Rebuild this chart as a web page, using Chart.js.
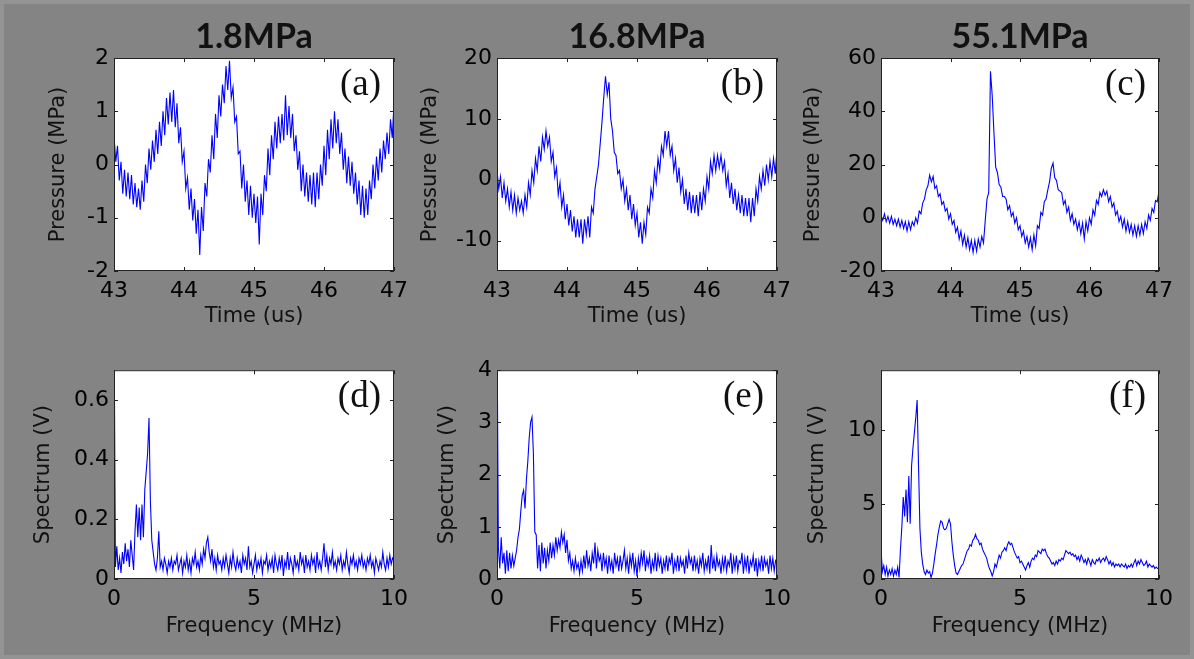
<!DOCTYPE html>
<html>
<head>
<meta charset="utf-8">
<script src="https://cdn.jsdelivr.net/npm/chart.js@4.4.1/dist/chart.umd.min.js"></script>
<style>
  html, body { margin: 0; padding: 0; }
  body { width: 1194px; height: 659px; background: rgb(132,132,132); position: relative; overflow: hidden; }
  .frame { position: absolute; left: 0; top: 0; width: 1194px; height: 659px; box-sizing: border-box; border: 4px solid rgb(148,148,148); }
  .panel { position: absolute; }
</style>
</head>
<body>
<div class="frame"></div>
<div class="panel" id="pa"><canvas id="ca"></canvas></div>
<div class="panel" id="pb"><canvas id="cb"></canvas></div>
<div class="panel" id="pc"><canvas id="cc"></canvas></div>
<div class="panel" id="pd"><canvas id="cd"></canvas></div>
<div class="panel" id="pe"><canvas id="ce"></canvas></div>
<div class="panel" id="pf"><canvas id="cf"></canvas></div>
<script>
// sampling grids (time in us, frequency in MHz)
const grid = (start, step, n) => Array.from({length: n}, (_, i) => +(start + i * step).toFixed(3))
const timeUs = grid(43, 0.025, 161)
const freqMHz = grid(0, 0.05, 201)

// Data
const pressureA = [
  0.55, 0.05, 0.35, -0.3, 0.05, -0.55, -0.1, -0.6,
  -0.15, -0.65, -0.2, -0.75, -0.35, -0.8, -0.45, -0.85,
  -0.3, -0.7, 0.0, -0.35, 0.3, -0.1, 0.45, 0.05,
  0.65, 0.2, 0.8, 0.35, 1.0, 0.55, 1.25, 0.75,
  1.35, 0.8, 1.4, 0.7, 1.15, 0.4, 0.7, 0.05,
  0.25, -0.45, -0.25, -0.85, -0.45, -1.05, -0.65, -1.3,
  -0.85, -1.7, -0.8, -1.25, -0.35, -0.6, 0.1, -0.15,
  0.55, 0.1, 0.95, 0.5, 1.3, 0.9, 1.5, 1.15,
  1.85, 1.4, 1.95, 1.25, 1.45, 0.8, 0.9, 0.2,
  0.25, -0.45, 0.0, -0.7, -0.3, -0.95, -0.4, -1.0,
  -0.55, -1.1, -0.6, -1.5, -0.55, -0.95, -0.2, -0.5,
  0.3, -0.2, 0.55, 0.1, 0.8, 0.3, 0.9, 0.4,
  0.95, 0.45, 1.3, 0.55, 1.1, 0.5, 0.95, 0.25,
  0.55, -0.1, 0.25, -0.5, 0.0, -0.6, -0.15, -0.7,
  -0.2, -0.75, -0.15, -0.8, -0.15, -0.65, 0.0, -0.4,
  0.35, -0.2, 0.65, 0.1, 0.85, 0.3, 1.0, 0.4,
  0.85, 0.2, 0.6, -0.1, 0.3, -0.35, 0.15, -0.4,
  0.05, -0.55, -0.15, -0.75, -0.3, -0.95, -0.4, -1.0,
  -0.45, -0.95, -0.3, -0.65, 0.0, -0.45, 0.15, -0.3,
  0.3, -0.15, 0.45, 0.1, 0.6, 0.2, 0.85, 0.5,
  1.15
]
const pressureB = [
  1.5, -1.5, 0.5, -3, -0.5, -3.5, -1.5, -4.5,
  -2, -5, -2.5, -5.5, -3, -5, -3.5, -5.5,
  -2.5, -4.5, -0.5, -2.5, 1.5, -0.5, 3.5, 1.5,
  5.5, 3, 7, 5, 8, 5.5, 7, 3,
  4.5, 0.5, 2, -2.5, -0.5, -4.5, -2.5, -6.5,
  -4, -7.5, -5, -8.5, -6, -9.5, -6.5, -9.5,
  -6.5, -10.5, -6.5, -9, -6, -9.5, -4.5, -5.5,
  -1.5, 0.5, 2.5, 6, 9.5, 13.5, 17, 14,
  16, 10, 8, 4.5, 4, 1, 1.5, -1.5,
  0, -3.5, -1.5, -5, -2.5, -6.5, -4, -7.5,
  -5.5, -9.5, -7, -10.5, -7, -9, -4.5, -5.5,
  -1.5, -3, 1.5, -0.5, 3.5, 1.5, 5.5, 4,
  8, 5.5, 8, 4, 5.5, 1.5, 3.5, -0.5,
  2, -2, 0, -4, -1.5, -5, -2, -5.5,
  -2.5, -5.5, -2.5, -6, -2, -5, -1.5, -3.5,
  0.5, -1.5, 3, 1, 4, 1.5, 4, 2,
  4, 1.5, 3, -1, 1, -3, -0.5, -4,
  -1.5, -5, -2.5, -5.5, -2.5, -6, -3, -6,
  -3, -7, -3, -6, -1.5, -3.5, 0.5, -1.5,
  1.5, -1, 2.5, 0, 3, 0.5, 3.5, 1,
  5
]
const pressureC = [
  1, -1, 1.5, -1.5, 0.5, -2, 0.5, -2.5,
  -0.5, -3, -0.5, -3.5, -1, -4, -1.5, -5,
  -1.5, -4.5, -1.5, -3, 0, -2, 2.5, 1.5,
  5.5, 7, 10.5, 12, 16, 13.5, 15.5, 11,
  12, 8, 9, 5, 6, 2.5, 3.5, -0.5,
  1.5, -2.5, -1, -5.5, -3.5, -8, -5, -10,
  -6.5, -11, -7.5, -12, -8.5, -13, -8.5, -12.5,
  -8, -11, -7, -9.5, -1, 7, 9.5, 55,
  46, 32, 19, 17, 12.5, 11.5, 8, 8,
  7, 3, 4.5, 0.5, 2, -2, 0, -4.5,
  -3, -7, -5, -9.5, -7, -11, -7.5, -12,
  -6.5, -10.5, -3, -4, 2, 1, 6, 7,
  10.5, 13.5, 18.5, 20.5, 15, 14, 10.5, 10,
  9.5, 5, 6.5, 2, 4, -1, 1.5, -2.5,
  -0.5, -4.5, -1.5, -6, -2, -8, -1.5, -5,
  0, -2.5, 3, 1, 6.5, 5, 9.5, 8,
  10.5, 8.5, 10, 6, 8, 4, 5.5, 1,
  2.5, -1.5, 0.5, -3.5, -0.5, -5, -1.5, -5.5,
  -2.5, -6.5, -3, -7, -3, -6.5, -2.5, -6,
  -1.5, -4, 1, -1, 3.5, 2, 6.5, 6,
  10
]
const spectrumD = [
  0.9,
  0.04, 0.11, 0.03, 0.07, 0.02, 0.09, 0.05, 0.12, 0.06, 0.1,
  0.04, 0.13, 0.08, 0.03, 0.16, 0.25, 0.14, 0.24, 0.13, 0.25,
  0.14, 0.3, 0.36, 0.42, 0.54, 0.26, 0.13, 0.09, 0.05, 0.03,
  0.07, 0.16, 0.04, 0.06, 0.03, 0.07, 0.05, 0.02, 0.06, 0.04,
  0.07, 0.03, 0.06, 0.05, 0.08, 0.03, 0.05, 0.07, 0.02, 0.06,
  0.04, 0.08, 0.03, 0.06, 0.02, 0.07, 0.05, 0.09, 0.04, 0.06,
  0.03, 0.08, 0.05, 0.1, 0.07, 0.12, 0.14, 0.09, 0.06, 0.1,
  0.04, 0.07, 0.03, 0.08, 0.05, 0.06, 0.03, 0.07, 0.04, 0.08,
  0.05, 0.02, 0.07, 0.04, 0.09, 0.05, 0.03, 0.07, 0.04, 0.06,
  0.02, 0.08, 0.05, 0.07, 0.03, 0.11, 0.04, 0.06, 0.02, 0.05,
  0.08, 0.03, 0.06, 0.04, 0.07, 0.02, 0.06, 0.05, 0.08, 0.03,
  0.06, 0.04, 0.07, 0.02, 0.08, 0.05, 0.03, 0.07, 0.04, 0.08,
  0.01, 0.06, 0.04, 0.09, 0.03, 0.07, 0.05, 0.02, 0.08, 0.04,
  0.06, 0.03, 0.09, 0.05, 0.07, 0.02, 0.08, 0.04, 0.06, 0.03,
  0.08, 0.05, 0.07, 0.02, 0.09, 0.04, 0.06, 0.03, 0.07, 0.12,
  0.04, 0.08, 0.03, 0.07, 0.05, 0.09, 0.04, 0.06, 0.03, 0.07,
  0.05, 0.08, 0.03, 0.06, 0.04, 0.09, 0.05, 0.02, 0.07, 0.05,
  0.08, 0.04, 0.06, 0.03, 0.07, 0.05, 0.08, 0.04, 0.06, 0.03,
  0.07, 0.05, 0.08, 0.04, 0.06, 0.02, 0.07, 0.05, 0.03, 0.06,
  0.04, 0.09, 0.05, 0.03, 0.07, 0.04, 0.08, 0.05, 0.07, 0.06
]
const spectrumE = [
  5,
  0.6, 0.2, 0.8, 0.3, 0.5, 0.1, 0.55, 0.15, 0.5, 0.2,
  0.45, 0.25, 0.4, 0.55, 0.8, 0.95, 1.3, 1.6, 1.7, 1.35,
  1.9, 2.25, 2.7, 3.0, 3.1, 2.4, 0.9, 0.85, 0.2, 0.65,
  0.15, 0.7, 0.3, 0.6, 0.2, 0.55, 0.35, 0.7, 0.4, 0.65,
  0.45, 0.8, 0.55, 0.75, 0.6, 0.9, 0.7, 0.85, 0.5, 0.75,
  0.35, 0.5, 0.2, 0.35, 0.15, 0.4, 0.2, 0.3, 0.1, 0.35,
  0.15, 0.45, 0.2, 0.55, 0.25, 0.4, 0.15, 0.5, 0.3, 0.7,
  0.2, 0.55, 0.35, 0.45, 0.15, 0.5, 0.25, 0.4, 0.1, 0.45,
  0.2, 0.35, 0.1, 0.5, 0.25, 0.4, 0.15, 0.45, 0.2, 0.35,
  0.55, 0.2, 0.4, 0.1, 0.45, 0.25, 0.5, 0.15, 0.35, 0.05,
  0.4, 0.2, 0.5, 0.3, 0.55, 0.15, 0.4, 0.25, 0.45, 0.1,
  0.35, 0.2, 0.5, 0.15, 0.45, 0.25, 0.4, 0.1, 0.35, 0.2,
  0.45, 0.15, 0.4, 0.3, 0.5, 0.1, 0.35, 0.2, 0.45, 0.15,
  0.4, 0.25, 0.35, 0.1, 0.45, 0.2, 0.5, 0.3, 0.4, 0.15,
  0.45, 0.2, 0.35, 0.1, 0.4, 0.25, 0.5, 0.15, 0.35, 0.2,
  0.45, 0.1, 0.65, 0.2, 0.4, 0.15, 0.45, 0.25, 0.35, 0.1,
  0.4, 0.2, 0.45, 0.15, 0.35, 0.25, 0.5, 0.1, 0.4, 0.2,
  0.45, 0.15, 0.35, 0.3, 0.5, 0.1, 0.4, 0.2, 0.45, 0.1,
  0.35, 0.25, 0.45, 0.15, 0.4, 0.05, 0.35, 0.2, 0.45, 0.15,
  0.4, 0.25, 0.35, 0.1, 0.45, 0.2, 0.4, 0.15, 0.35, 0.4
]
const spectrumF = [
  2.0,
  0.5, 0.9, 0.3, 0.8, 0.2, 0.6, 0.3, 0.7, 0.2, 0.6,
  0.3, 0.8, 0.1, 2.0, 3.5, 5.5, 4.2, 6.0, 3.8, 6.9,
  3.7, 7.6, 8.8, 9.8, 10.8, 12.0, 7.6, 3.4, 1.8, 1.0,
  0.5, 0.3, 0.6, 0.4, 0.5, 0.1, 0.4, 1.0, 1.7, 2.3,
  3.0, 3.5, 3.9, 3.8, 3.4, 3.3, 3.4, 3.7, 4.0, 3.7,
  2.5, 1.6, 0.9, 0.4, 0.3, 0.5, 0.7, 0.9, 1.0, 1.3,
  1.6, 1.9, 2.0, 2.3, 2.2, 2.6, 2.7, 3.0, 2.7, 2.6,
  2.3, 2.4, 2.0, 1.8, 1.6, 1.4, 1.0, 0.7, 0.5, 0.2,
  0.5, 1.0, 0.8, 1.2, 1.6, 1.4, 1.8, 1.9, 2.1, 1.9,
  2.3, 2.5, 2.3, 2.4, 2.1, 1.8, 1.6, 1.4, 1.5, 1.1,
  1.2, 1.0, 0.8, 0.6, 0.9, 1.1, 0.8, 1.2, 1.4, 1.3,
  1.6, 1.5, 1.9, 1.8, 1.7, 2.0, 1.9, 2.0, 1.7, 1.5,
  1.4, 1.2, 1.0, 1.1, 0.9, 1.2, 1.0, 1.3, 1.2, 1.4,
  1.3, 1.6, 1.9, 1.8, 1.7, 1.8, 1.6, 1.7, 1.5, 1.6,
  1.3, 1.5, 1.2, 1.6, 1.4, 1.1, 1.3, 1.0, 1.4, 1.2,
  0.9, 1.3, 1.1, 1.0, 1.3, 1.2, 1.4, 1.1, 1.3, 1.4,
  1.2, 1.5, 1.3, 1.0, 1.2, 0.9, 1.1, 0.8, 1.0, 0.9,
  1.0, 0.8, 1.0, 0.9, 0.8, 1.0, 0.7, 0.9, 0.8, 1.0,
  0.8, 1.1, 1.3, 0.9, 1.2, 1.0, 1.3, 1.1, 0.9, 1.0,
  1.2, 0.8, 1.0, 0.9, 0.8, 0.9, 0.7, 0.8, 0.7, 0.7
]

// tick labels
const timeTicks = [43, 44, 45, 46, 47]
const freqTicks = [0, 5, 10]
const pressureTicksA = [-2, -1, 0, 1, 2]
const pressureTicksB = [-10, 0, 10, 20]
const pressureTicksC = [-20, 0, 20, 40, 60]
const spectrumTicksD = [0, 0.2, 0.4, 0.6]
const spectrumTicksE = [0, 1, 2, 3, 4]
const spectrumTicksF = [0, 5, 10]

const titles = ['1.8MPa', '16.8MPa', '55.1MPa']
const tags = ['(a)', '(b)', '(c)', '(d)', '(e)', '(f)']

Chart.defaults.color = '#000'
Chart.defaults.font.family = '"DejaVu Sans", sans-serif'

const Y_AXIS_W = 90
const X_AXIS_H = 75
const RIGHT_PAD = 22

// white plot area, box, inner ticks, panel tag and title
const framePlugin = {
  id: 'frame',
  beforeDraw(chart) {
    const {ctx, chartArea: a} = chart
    ctx.save()
    ctx.fillStyle = '#fff'
    ctx.fillRect(a.left, a.top, a.width, a.height)
    ctx.restore()
  },
  afterDraw(chart, args, opts) {
    const {ctx, chartArea: a, scales: {x, y}} = chart
    ctx.save()
    ctx.strokeStyle = '#222'
    ctx.lineWidth = 1
    ctx.strokeRect(a.left + 0.5, a.top + 0.5, a.width - 1, a.height - 1)
    ctx.beginPath()
    x.ticks.forEach(t => {
      const px = Math.round(x.getPixelForValue(t.value)) + 0.5
      ctx.moveTo(px, a.bottom); ctx.lineTo(px, a.bottom - 4)
      ctx.moveTo(px, a.top); ctx.lineTo(px, a.top + 4)
    })
    y.ticks.forEach(t => {
      const py = Math.round(y.getPixelForValue(t.value)) + 0.5
      ctx.moveTo(a.left, py); ctx.lineTo(a.left + 4, py)
      ctx.moveTo(a.right, py); ctx.lineTo(a.right - 4, py)
    })
    ctx.stroke()
    ctx.fillStyle = '#111'
    ctx.font = '37px "Liberation Serif", serif'
    ctx.textAlign = 'right'
    ctx.textBaseline = 'middle'
    ctx.fillText(opts.tag, a.right - 13, a.top + 27)
    if (opts.title) {
      ctx.font = 'bold 34px Lato, sans-serif'
      ctx.textAlign = 'center'
      ctx.fillText(opts.title, (a.left + a.right) / 2, a.top - 21)
    }
    ctx.restore()
  }
}

const panels = [
  {id: 'a', x: timeUs, y: pressureA, xTicks: timeTicks, yTicks: pressureTicksA, xr: [43, 47], yr: [-2, 2],
   xTitle: 'Time (us)', yTitle: 'Pressure (MPa)', plot: [114, 58, 280, 213], yDist: 55, title: titles[0], tag: tags[0]},
  {id: 'b', x: timeUs, y: pressureB, xTicks: timeTicks, yTicks: pressureTicksB, xr: [43, 47], yr: [-15, 20],
   xTitle: 'Time (us)', yTitle: 'Pressure (MPa)', plot: [497, 58, 280, 213], yDist: 66, title: titles[1], tag: tags[1]},
  {id: 'c', x: timeUs, y: pressureC, xTicks: timeTicks, yTicks: pressureTicksC, xr: [43, 47], yr: [-20, 60],
   xTitle: 'Time (us)', yTitle: 'Pressure (MPa)', plot: [881, 58, 278, 213], yDist: 67, title: titles[2], tag: tags[2]},
  {id: 'd', x: freqMHz, y: spectrumD, xTicks: freqTicks, yTicks: spectrumTicksD, xr: [0, 10], yr: [0, 0.7],
   xTitle: 'Frequency (MHz)', yTitle: 'Spectrum (V)', plot: [114, 366, 280, 213], yDist: 70, tag: tags[3]},
  {id: 'e', x: freqMHz, y: spectrumE, xTicks: freqTicks, yTicks: spectrumTicksE, xr: [0, 10], yr: [0, 4],
   xTitle: 'Frequency (MHz)', yTitle: 'Spectrum (V)', plot: [497, 366, 280, 213], yDist: 49, tag: tags[4]},
  {id: 'f', x: freqMHz, y: spectrumF, xTicks: freqTicks, yTicks: spectrumTicksF, xr: [0, 10], yr: [0, 14],
   xTitle: 'Frequency (MHz)', yTitle: 'Spectrum (V)', plot: [881, 366, 278, 213], yDist: 63, tag: tags[5]},
]

panels.forEach(p => {
  const [pl, pt, pw, ph] = p.plot
  const padTop = p.title ? 50 : 14
  const box = document.getElementById('p' + p.id)
  const canvas = document.getElementById('c' + p.id)
  const w = pw + Y_AXIS_W + RIGHT_PAD
  const h = padTop + ph + X_AXIS_H
  box.style.left = (pl - Y_AXIS_W) + 'px'
  box.style.top = (pt - padTop) + 'px'
  canvas.width = w
  canvas.height = h
  const xTitleDist = p.title ? 46 : 48

  new Chart(canvas, {
    type: 'line',
    data: {
      labels: p.x,
      datasets: [{
        data: p.y,
        borderColor: '#0000ff',
        borderWidth: 1.1,
        pointRadius: 0,
        tension: 0,
        fill: false
      }]
    },
    options: {
      responsive: false,
      animation: false,
      events: [],
      layout: {padding: {top: padTop, right: RIGHT_PAD, left: 0, bottom: 0}},
      plugins: {
        legend: {display: false},
        tooltip: {enabled: false},
        frame: {tag: p.tag, title: p.title}
      },
      scales: {
        x: {
          type: 'linear',
          min: p.xr[0], max: p.xr[1],
          grid: {display: false, drawTicks: false},
          border: {display: false},
          afterBuildTicks: s => { s.ticks = p.xTicks.map(v => ({value: v})) },
          afterFit: s => { s.height = X_AXIS_H },
          ticks: {padding: 7, maxRotation: 0, font: {size: 22}, color: '#000'},
          title: {display: true, text: p.xTitle, font: {size: 21}, color: '#111',
                  padding: {top: 0, bottom: X_AXIS_H - 12.6 - xTitleDist}}
        },
        y: {
          type: 'linear',
          min: p.yr[0], max: p.yr[1],
          grid: {display: false, drawTicks: false},
          border: {display: false},
          afterBuildTicks: s => { s.ticks = p.yTicks.map(v => ({value: v})) },
          afterFit: s => { s.width = Y_AXIS_W },
          ticks: {padding: 5, font: {size: 22}, color: '#000'},
          title: {display: true, text: p.yTitle, font: {size: 21}, color: '#111',
                  padding: {top: Y_AXIS_W - p.yDist - 12.6, bottom: 0}}
        }
      }
    },
    plugins: [framePlugin]
  })
})
</script>
</body>
</html>
